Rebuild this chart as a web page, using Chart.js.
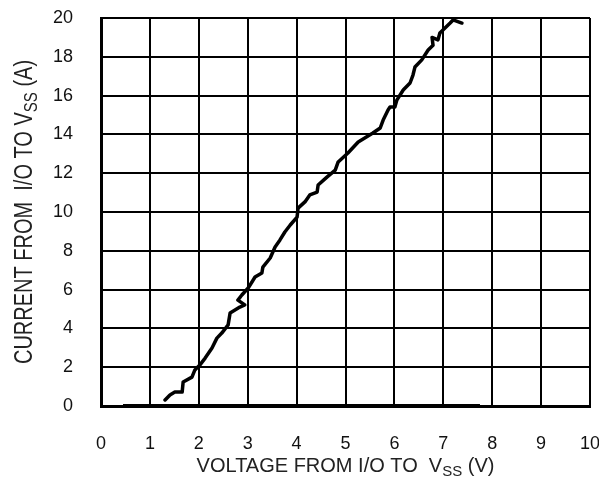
<!DOCTYPE html>
<html>
<head>
<meta charset="utf-8">
<script src="https://cdn.jsdelivr.net/npm/chart.js@4"></script>
<style>
  html, body { margin: 0; padding: 0; background: #fff; }
  #wrap { width: 599px; height: 479px; }
</style>
</head>
<body>
<div id="wrap"><canvas id="ivChart"></canvas></div>
<script>
// ===== DATA =====
const curveVolts = [1.31, 1.41, 1.51, 1.66, 1.68, 1.86, 1.92, 2.02, 2.13, 2.27, 2.37, 2.47, 2.60, 2.64, 2.84, 2.94, 2.80, 2.88, 3.01, 3.15, 3.29, 3.31, 3.46, 3.56, 3.66, 3.76, 3.87, 4.01, 4.03, 4.17, 4.27, 4.42, 4.44, 4.62, 4.79, 4.85, 5.05, 5.26, 5.56, 5.71, 5.77, 5.87, 5.91, 6.01, 6.05, 6.18, 6.32, 6.38, 6.42, 6.56, 6.69, 6.79, 6.77, 6.89, 6.93, 7.14, 7.20, 7.38];
const curveAmps  = [0.31, 0.57, 0.72, 0.72, 1.24, 1.49, 1.86, 2.11, 2.47, 2.99, 3.5, 3.76, 4.18, 4.79, 5.1, 5.21, 5.46, 5.72, 6.08, 6.65, 6.86, 7.16, 7.63, 8.2, 8.56, 8.97, 9.33, 9.74, 10.2, 10.52, 10.88, 11.03, 11.39, 11.8, 12.16, 12.58, 13.04, 13.61, 14.07, 14.33, 14.74, 15.26, 15.41, 15.41, 15.77, 16.29, 16.65, 17.06, 17.47, 17.84, 18.35, 18.6, 19.0, 18.87, 19.23, 19.74, 19.9, 19.74];
const baseVolts = [0.45, 7.75];
const baseAmps  = [0, 0];
const xTicks = [0, 1, 2, 3, 4, 5, 6, 7, 8, 9, 10];
const yTicks = [0, 2, 4, 6, 8, 10, 12, 14, 16, 18, 20];

const FONT = '"Liberation Sans", Arial, sans-serif';

function toPoints(xs, ys) {
    return xs.map((x, i) => ({ x: x, y: ys[i] }));
}

// draw a title with a "SS" subscript, centred on x
function drawSubText(ctx, parts, x, y) {
    let total = 0;
    parts.forEach(p => {
        ctx.font = (p[1] ? '15px ' : '20px ') + FONT;
        total += ctx.measureText(p[0]).width;
    });
    let cx = x - total / 2;
    parts.forEach(p => {
        ctx.font = (p[1] ? '15px ' : '20px ') + FONT;
        ctx.fillText(p[0], cx, y + (p[1] ? 4 : 0));
        cx += ctx.measureText(p[0]).width;
    });
}

const axisTitles = {
    id: 'axisTitles',
    afterDraw(chart) {
        const ctx = chart.ctx;
        const a = chart.chartArea;
        ctx.save();
        ctx.fillStyle = '#222';
        ctx.textBaseline = 'alphabetic';
        ctx.textAlign = 'left';
        drawSubText(ctx, [['VOLTAGE FROM I/O TO  V', false], ['SS', true], [' (V)', false]], (a.left + a.right) / 2, 472);
        ctx.translate(32, (a.top + a.bottom) / 2);
        ctx.rotate(-Math.PI / 2);
        ctx.scale(1, 1.25);
        drawSubText(ctx, [['CURRENT FROM  I/O TO V', false], ['SS', true], [' (A)', false]], 0, 0);
        ctx.restore();
    }
};

new Chart(document.getElementById('ivChart'), {
    type: 'scatter',
    data: {
        datasets: [{
            data: toPoints(curveVolts, curveAmps),
            showLine: true,
            borderColor: '#000',
            borderWidth: 3.5,
            borderJoinStyle: 'round',
            borderCapStyle: 'round',
            pointRadius: 0,
            tension: 0
        }, {
            data: toPoints(baseVolts, baseAmps),
            showLine: true,
            borderColor: '#000',
            borderWidth: 4,
            pointRadius: 0
        }]
    },
    options: {
        responsive: true,
        maintainAspectRatio: false,
        animation: false,
        layout: { padding: { top: 18, right: 9, left: 0, bottom: 0 } },
        plugins: {
            legend: { display: false },
            tooltip: { enabled: false }
        },
        scales: {
            x: {
                type: 'linear',
                min: 0,
                max: 10,
                afterBuildTicks: s => { s.ticks = xTicks.map(v => ({ value: v })); },
                afterFit: s => { s.height = 73; s.paddingLeft = 0; s.paddingRight = 0; },
                grid: { color: '#000', lineWidth: 2, drawTicks: false },
                border: { color: '#000', width: 3 },
                ticks: { color: '#111', padding: 27, font: { family: FONT, size: 18 } }
            },
            y: {
                type: 'linear',
                min: 0,
                max: 20,
                afterBuildTicks: s => { s.ticks = yTicks.map(v => ({ value: v })); },
                afterFit: s => { s.width = 101; s.paddingTop = 0; s.paddingBottom = 0; },
                grid: { color: '#000', lineWidth: 2, drawTicks: false },
                border: { color: '#000', width: 3 },
                ticks: { color: '#111', padding: 28, font: { family: FONT, size: 18 } }
            }
        }
    },
    plugins: [axisTitles]
});
</script>
</body>
</html>
